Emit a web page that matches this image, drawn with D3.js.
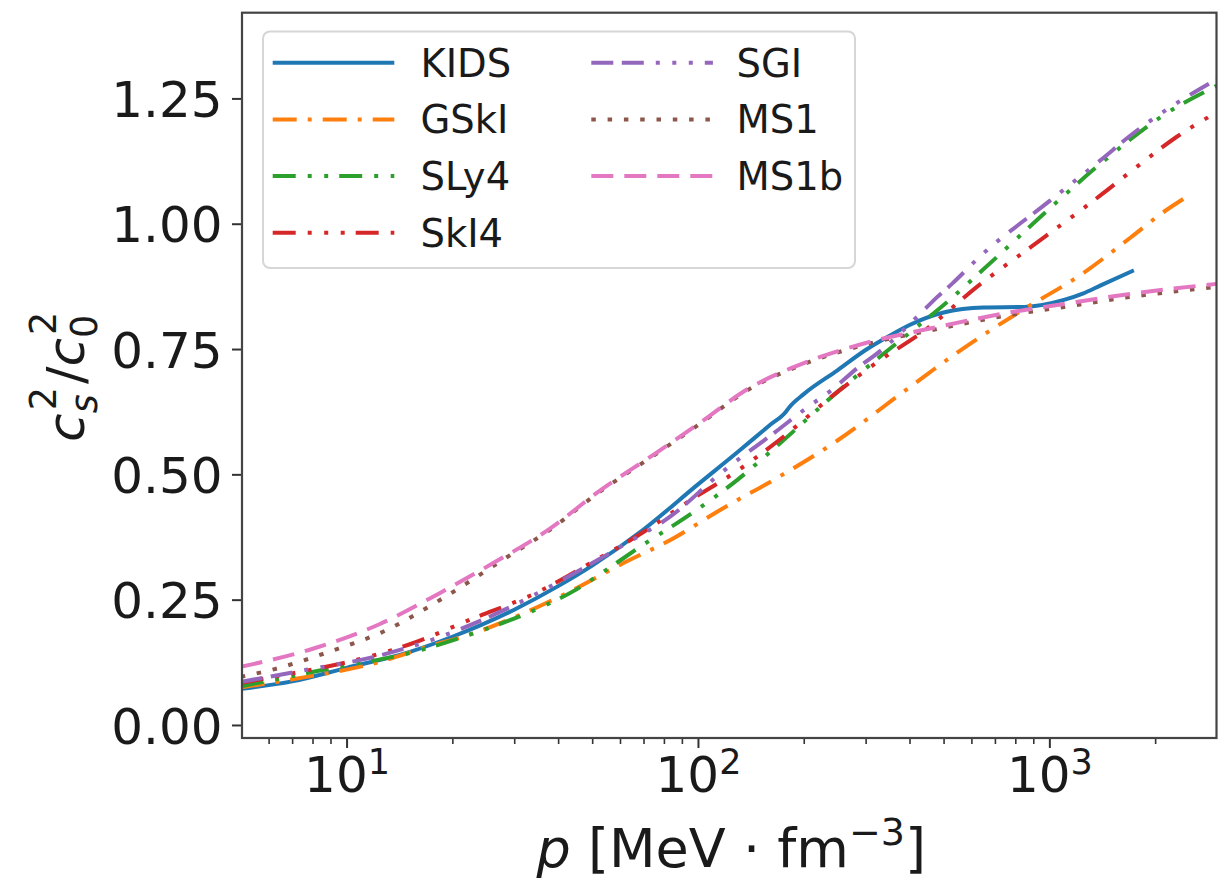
<!DOCTYPE html>
<html><head><meta charset="utf-8">
<script src="https://cdn.jsdelivr.net/npm/d3@7"></script>
<style>
body{margin:0;background:#fff;}
svg{display:block;}
text{font-family:"DejaVu Sans",sans-serif;fill:#1a1a1a;}
</style>
</head><body>
<svg id="c" width="1231" height="886"></svg>
<script>
// ---------------- data ----------------
const seriesNames = ["KIDS","GSkI","SLy4","SkI4","SGI","MS1","MS1b"];
const seriesColors = ["#1f77b4","#ff7f0e","#2ca02c","#d62728","#9467bd","#8c564b","#e377c2"];
const seriesDash = ["", "24,11,4,11", "23,12,4,12.5,4,11", "23,12,4,12.5,4,12.5,4,11",
                    "22,8.5,22,12,4,12.5,4,12.5,4,12", "4.5,11.8", "22,11"];

const pKIDS = [5,7,10,15,20,30,40,50,70,100,130,160,178,182,200,250,300,350,400,500,650,850,1100,1250,1400,1740];
const vKIDS = [0.072,0.087,0.114,0.145,0.176,0.230,0.277,0.318,0.390,0.480,0.545,0.598,0.625,0.634,0.660,0.708,0.748,0.776,0.798,0.823,0.833,0.834,0.848,0.861,0.877,0.907];

const pGSkI = [5,7.7,12,17,23,32,44,61,85,115,170,250,380,560,830,1240,1700,2100,2450];
const vGSkI = [0.075,0.096,0.123,0.156,0.183,0.223,0.269,0.322,0.372,0.428,0.495,0.568,0.662,0.748,0.826,0.900,0.972,1.022,1.053];

const pSLy4 = [5,9.5,15,23,35,45,55,70,95,130,170,250,330,430,520,640,1000,1400,2150,2990];
const vSLy4 = [0.077,0.116,0.143,0.183,0.232,0.270,0.310,0.360,0.420,0.490,0.560,0.665,0.735,0.800,0.848,0.905,1.030,1.120,1.220,1.275];

const pSkI4 = [5,7,10.7,15,23,35,50,70,95,130,170,250,330,430,640,860,1400,1800,2300,2990];
const vSkI4 = [0.084,0.103,0.130,0.160,0.213,0.265,0.325,0.385,0.448,0.508,0.568,0.665,0.728,0.781,0.881,0.947,1.057,1.117,1.173,1.222];

const pSGI = [5,7.7,12,18,28,40,60,85,115,170,206,240,283,333,420,480,530,640,1000,1400,1730,2150,2990];
const vSGI = [0.086,0.110,0.136,0.173,0.229,0.285,0.355,0.420,0.500,0.590,0.635,0.668,0.711,0.748,0.814,0.854,0.881,0.937,1.045,1.127,1.180,1.227,1.288];

const pMS1 = [5,6.2,9.35,12.7,18.4,28.5,38,52,75,100,140,200,300,480,730,1100,1700,2990];
const vMS1 = [0.096,0.111,0.151,0.186,0.249,0.334,0.390,0.463,0.538,0.598,0.670,0.720,0.759,0.790,0.815,0.834,0.854,0.874];

const pMS1b = [5,8.1,12.4,18.4,26,38,52,75,100,140,200,300,480,730,1100,1700,2990];
const vMS1b = [0.116,0.153,0.201,0.263,0.322,0.392,0.465,0.540,0.600,0.672,0.722,0.762,0.794,0.820,0.840,0.860,0.880];

const seriesP = [pKIDS,pGSkI,pSLy4,pSkI4,pSGI,pMS1,pMS1b];
const seriesV = [vKIDS,vGSkI,vSLy4,vSkI4,vSGI,vMS1,vMS1b];

const xDomain = [5.04, 2990];
const yDomain = [-0.026, 1.421];
const xMajorTicks = [10, 100, 1000];
const xMajorExp = ["1","2","3"];
const yTicks = [0, 0.25, 0.5, 0.75, 1.0, 1.25];
const yTickLabels = ["0.00","0.25","0.50","0.75","1.00","1.25"];

// ---------------- layout ----------------
const M = {left:242, right:1216.5, top:12.7, bottom:738};
const svg = d3.select("#c");
const x = d3.scaleLog().domain(xDomain).range([M.left, M.right]);
const y = d3.scaleLinear().domain(yDomain).range([M.bottom, M.top]);

svg.append("defs").append("clipPath").attr("id","clip")
  .append("rect").attr("x",M.left).attr("y",M.top)
  .attr("width",M.right-M.left).attr("height",M.bottom-M.top);

// lines
const line = d3.line().x(d=>x(d[0])).y(d=>y(d[1])).curve(d3.curveMonotoneX);
const gLines = svg.append("g").attr("clip-path","url(#clip)");
seriesNames.forEach((n,i)=>{
  const pts = seriesP[i].map((p,j)=>[p, seriesV[i][j]]);
  gLines.append("path").datum(pts)
    .attr("d", line)
    .attr("fill","none")
    .attr("stroke", seriesColors[i])
    .attr("stroke-width", 4)
    .attr("stroke-linecap","butt")
    .attr("stroke-dasharray", seriesDash[i] || null);
});

// axes
const tickColor = "#333";
const minorTicks = x.ticks().filter(t => !xMajorTicks.includes(t) && t>=xDomain[0] && t<=xDomain[1]);
const gxMinor = svg.append("g").attr("transform",`translate(0,${M.bottom})`)
  .call(d3.axisBottom(x).tickValues(minorTicks).tickSize(6).tickFormat(""));
gxMinor.select(".domain").remove();
gxMinor.selectAll("line").attr("stroke",tickColor).attr("stroke-width",1.6);

const gxMajor = svg.append("g").attr("transform",`translate(0,${M.bottom})`)
  .call(d3.axisBottom(x).tickValues(xMajorTicks).tickSize(10).tickFormat(""));
gxMajor.select(".domain").remove();
gxMajor.selectAll("line").attr("stroke",tickColor).attr("stroke-width",2);
gxMajor.selectAll(".tick").each(function(d,i){
  const t = d3.select(this).append("text")
    .attr("y", 53.7).attr("text-anchor","middle")
    .style("font-size","50px").attr("fill","#1a1a1a");
  t.append("tspan").text("10");
  t.append("tspan").attr("dy",-18).style("font-size","35px").text(xMajorExp[i]);
});

const gy = svg.append("g").attr("transform",`translate(${M.left},0)`)
  .call(d3.axisLeft(y).tickValues(yTicks).tickSize(10).tickFormat(""));
gy.select(".domain").remove();
gy.selectAll("line").attr("stroke",tickColor).attr("stroke-width",2);
gy.selectAll(".tick").append("text")
  .attr("x",-19.5).attr("y",18.2).attr("text-anchor","end")
  .style("font-size","50px").attr("fill","#1a1a1a")
  .text((d,i)=>yTickLabels[i]);

// frame
svg.append("rect").attr("x",M.left).attr("y",M.top)
  .attr("width",M.right-M.left).attr("height",M.bottom-M.top)
  .attr("fill","none").attr("stroke","#444").attr("stroke-width",2.2);

// x label
const xl = svg.append("text").attr("x",(M.left+M.right)/2+2).attr("y",866.7)
  .attr("text-anchor","middle").style("font-size","54px");
xl.append("tspan").style("font-style","italic").text("p");
xl.append("tspan").text(" [MeV \u00b7 fm");
xl.append("tspan").attr("dy",-22).style("font-size","38px").text("\u22123");
xl.append("tspan").attr("dy",22).text("]");

// y label (c_s^2 / c_0^2) built from pieces
const yl = svg.append("g");
const fs = 52, sfs = 36.5;
function addPiece(txt, size, italic, dy){
  const t = yl.append("text").style("font-size",size+"px").text(txt);
  if(italic) t.style("font-style","italic");
  return {t, w: t.node().getComputedTextLength(), dy};
}
let cx = 0;
const c1 = addPiece("c", fs, true, 0);
const s1 = addPiece("s", sfs, true, 13);
const u1 = addPiece("2", sfs, false, -28);
const sl = addPiece("/", fs, false, 0);
const c2 = addPiece("c", fs, true, 0);
const s2 = addPiece("0", sfs, false, 13);
const u2 = addPiece("2", sfs, false, -28);
function place(p, xx){ p.t.attr("x", xx).attr("y", p.dy); }
place(c1, cx); cx += c1.w;
place(s1, cx); place(u1, cx+3); cx += Math.max(s1.w, u1.w+3) + 3;
place(sl, cx); cx += sl.w;
place(c2, cx); cx += c2.w;
place(s2, cx); place(u2, cx+3); cx += Math.max(s2.w, u2.w+3) + 3;
const total = cx;
yl.selectAll("text").attr("transform", `translate(${-total/2},0)`);
yl.attr("transform", `translate(84,${(M.top+M.bottom)/2}) rotate(-90)`);

// legend
const L = {x:263, y:31.5, w:592, h:236.5};
svg.append("rect").attr("x",L.x).attr("y",L.y).attr("width",L.w).attr("height",L.h)
  .attr("rx",7).attr("fill","#fff").attr("fill-opacity",0.85)
  .attr("stroke","#d6d6d6").attr("stroke-width",2);
const rowY = [62.7, 119.4, 176.1, 232.8];
const colHandleX = [272.7, 591.3];
const colTextX = [420.5, 736.5];
const handleLen = 121.6;
seriesNames.forEach((n,i)=>{
  const col = i < 4 ? 0 : 1;
  const row = i < 4 ? i : i-4;
  const ry = rowY[row];
  svg.append("line").attr("x1",colHandleX[col]).attr("x2",colHandleX[col]+handleLen)
    .attr("y1",ry).attr("y2",ry)
    .attr("stroke",seriesColors[i]).attr("stroke-width",4)
    .attr("stroke-dasharray",seriesDash[i]||null);
  svg.append("text").attr("x",colTextX[col]).attr("y",ry+13.8)
    .style("font-size","38.5px").text(n);
});
</script>
</body></html>
